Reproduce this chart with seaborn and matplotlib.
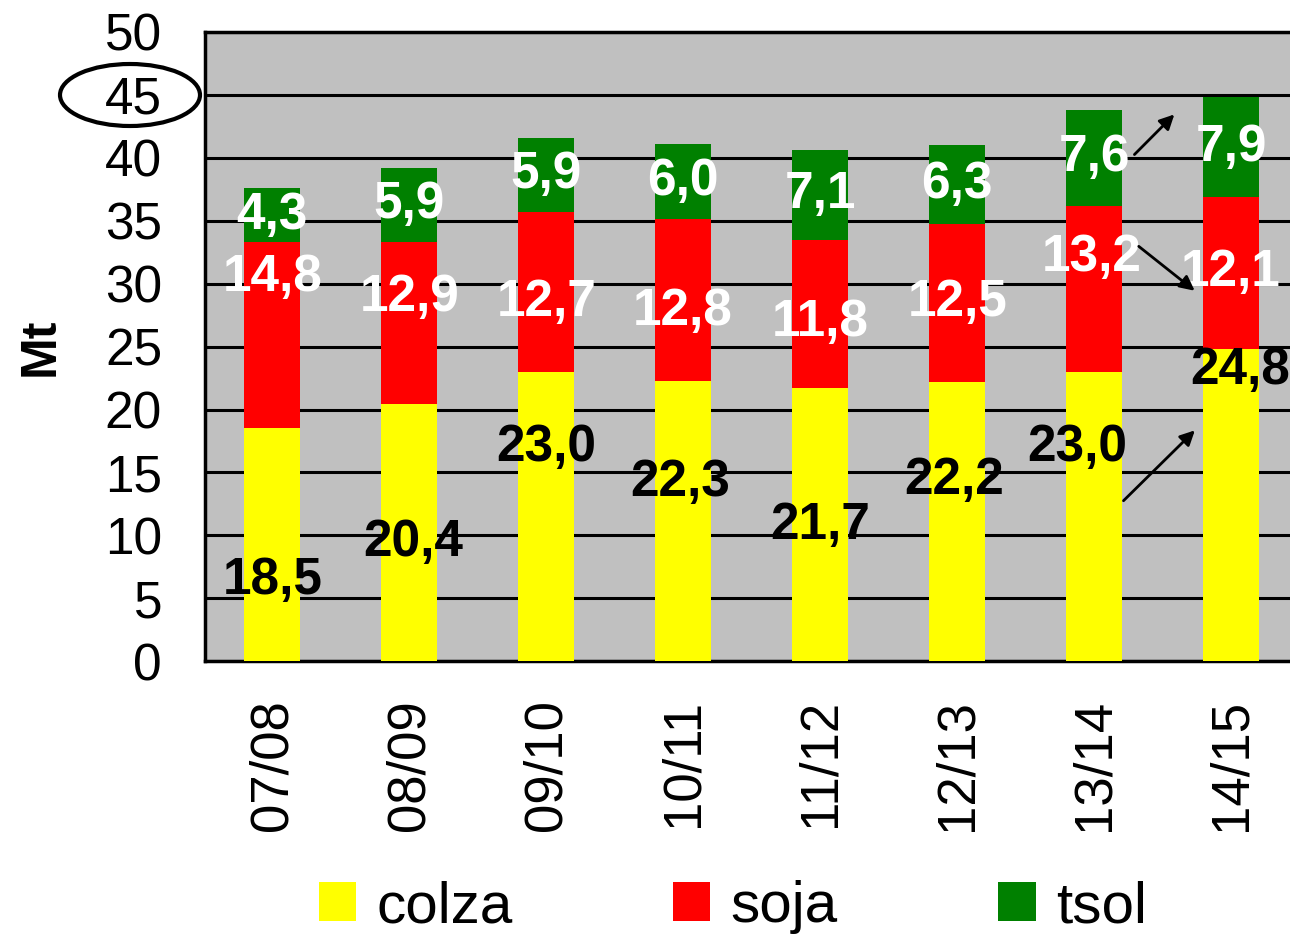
import numpy as np
import pandas as pd
import seaborn as sns
import matplotlib.pyplot as plt
from matplotlib.patches import Ellipse, Patch

# data (Mt)
campagnes = ["07/08", "08/09", "09/10", "10/11", "11/12", "12/13", "13/14", "14/15"]
colza = [18.5, 20.4, 23.0, 22.3, 21.7, 22.2, 23.0, 24.8]
soja = [14.8, 12.9, 12.7, 12.8, 11.8, 12.5, 13.2, 12.1]
tsol = [4.3, 5.9, 5.9, 6.0, 7.1, 6.3, 7.6, 7.9]
series_names = ["colza", "soja", "tsol"]
series_colors = ["#FFFF00", "#FF0000", "#008000"]

# where the value labels sit (data units)
colza_lab_y = [6.4, 9.4, 17.0, 14.2, 10.8, 14.4, 17.0, 23.1]
colza_lab_dx = [0, 0.03, 0, -0.02, 0, -0.02, -0.12, 0.07]
soja_lab_y = [30.5, 28.9, 28.5, 27.8, 26.9, 28.5, 32.1, 30.9]
soja_lab_dx = [0, 0, 0, 0, 0, 0, -0.02, 0]

df = pd.DataFrame({"campagne": campagnes, "colza": colza, "soja": soja, "tsol": tsol})
df["c_s"] = df["colza"] + df["soja"]
df["total"] = df["c_s"] + df["tsol"]

sns.set_style("white", {"axes.facecolor": "#C0C0C0"})
plt.rcParams["font.family"] = ["Liberation Sans", "DejaVu Sans"]
for k in ["text.color", "axes.labelcolor", "xtick.color", "ytick.color"]:
    plt.rcParams[k] = "black"

fig = plt.figure(figsize=(12.9, 9.38), dpi=100)
ax = fig.add_axes([0.159, 0.295, 0.841, 0.671])

# stacked look: draw cumulative totals from the top down
for col, c in [("total", series_colors[2]), ("c_s", series_colors[1]), ("colza", series_colors[0])]:
    sns.barplot(data=df, x="campagne", y=col, color=c, width=0.41, saturation=1,
                linewidth=0, edgecolor="none", ax=ax, zorder=3)

ax.set_ylim(0, 50)
ax.set_xlim(-0.49, 7.43)
ax.set_yticks(np.arange(0, 51, 5))
ax.yaxis.grid(True, color="black", linewidth=2.2, zorder=1)
ax.set_axisbelow(True)
for s in ["left", "bottom", "top"]:
    ax.spines[s].set_color("black")
    ax.spines[s].set_linewidth(2.5)
ax.spines["right"].set_visible(False)
ax.tick_params(axis="y", labelsize=37, length=0, pad=31)
ax.tick_params(axis="x", labelsize=38, length=0, pad=27, rotation=90)
ax.set_xlabel("")
ax.set_ylabel("Mt", fontsize=36, fontweight="bold", labelpad=30)

lab_kw = dict(ha="center", va="center", fontsize=37, fontweight="bold", zorder=5)
for i in range(len(campagnes)):
    ax.text(i + colza_lab_dx[i], colza_lab_y[i], f"{colza[i]:.1f}".replace(".", ","),
            color="black", **lab_kw)
    ax.text(i + soja_lab_dx[i], soja_lab_y[i], f"{soja[i]:.1f}".replace(".", ","),
            color="white", **lab_kw)
    ax.text(i, df["c_s"][i] + tsol[i] / 2, f"{tsol[i]:.1f}".replace(".", ","),
            color="white", **lab_kw)

# arrows from 13/14 to 14/15
arr = dict(arrowstyle="-|>", color="black", lw=2, mutation_scale=22)
ax.annotate("", xy=(6.60, 43.6), xytext=(6.28, 40.1), arrowprops=arr, zorder=6)
ax.annotate("", xy=(6.75, 29.3), xytext=(6.31, 33.1), arrowprops=arr, zorder=6)
ax.annotate("", xy=(6.75, 18.5), xytext=(6.20, 12.6), arrowprops=arr, zorder=6)

# ellipse around the 45 tick
fig.patches.append(Ellipse((130 / 1290, 1 - 95 / 938), 140 / 1290, 62 / 938,
                           transform=fig.transFigure, fill=False, edgecolor="black",
                           linewidth=3))

handles = [Patch(facecolor=c, edgecolor="none") for c in series_colors]
fig.legend(handles, series_names, loc="center", bbox_to_anchor=(0.568, 1 - 907 / 938),
           ncol=3, frameon=False, fontsize=42, handlelength=0.64, handleheight=0.64,
           handletextpad=0.35, columnspacing=2.75)

fig.savefig("out.png", dpi=100)
